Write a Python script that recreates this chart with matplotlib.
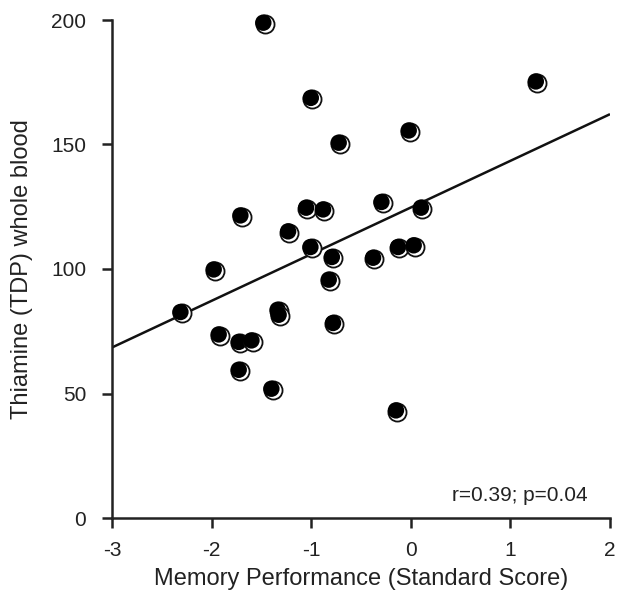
import matplotlib
matplotlib.use("Agg")
import matplotlib.pyplot as plt
import matplotlib.transforms as mtransforms
import numpy as np

plt.rcParams['font.family'] = ['Liberation Sans', 'DejaVu Sans']

memory_score = [-1.468, 1.268, -0.991, -0.711, -0.008, -1.698, -1.219, -1.038,
                -0.868, -0.282, 0.115, -0.995, -0.780, -0.811, -0.768, -0.366,
                -0.115, 0.042, -0.136, -1.966, -2.300, -1.916, -1.715, -1.587,
                -1.715, -1.387, -1.324, -1.314]
thiamine_tdp = [198.4, 174.8, 168.2, 150.2, 155.1, 121.0, 114.6, 124.1,
                123.4, 126.4, 124.1, 108.3, 104.3, 95.2, 77.8, 104.0,
                108.3, 109.0, 42.7, 99.3, 82.2, 73.2, 70.2, 70.8,
                59.0, 51.4, 83.1, 81.1]
fit_slope = 18.74
fit_intercept = 124.7
x_ticks = [-3, -2, -1, 0, 1, 2]
y_ticks = [0, 50, 100, 150, 200]
annotation = "r=0.39; p=0.04"

fig = plt.figure(figsize=(6.17, 5.98), dpi=100)
ax = fig.add_axes([112/617, (598-518)/598, (610-112)/617, (518-20)/598])

fx = np.array([-3, 2])
ax.plot(fx, fit_slope*fx + fit_intercept, color='#111111', lw=1.8, zorder=2,
        solid_capstyle='butt')

off = mtransforms.offset_copy(ax.transData, fig=fig, x=-1.3, y=1.3, units='dots')
z = 3
for xv, yv in zip(memory_score, thiamine_tdp):
    ax.scatter([xv], [yv], s=170, facecolor='white', edgecolor='#111111',
               linewidth=1.3, zorder=z, clip_on=False)
    ax.scatter([xv], [yv], s=140, facecolor='black', edgecolor='none',
               transform=off, zorder=z + 0.5, clip_on=False)
    z += 1

ax.set_xlim(-3, 2)
ax.set_ylim(0, 200)
ax.set_xticks(x_ticks)
ax.set_xticklabels([str(t) for t in x_ticks])
ax.set_yticks(y_ticks)
ax.set_yticklabels([str(t) for t in y_ticks])
for s in ['top', 'right']:
    ax.spines[s].set_visible(False)
for s in ['left', 'bottom']:
    ax.spines[s].set_linewidth(1.8)
    ax.spines[s].set_color('#222222')
ax.tick_params(axis='both', direction='out', length=7.5, width=1.8,
               labelsize=15, colors='#222222', labelcolor='#222222')
ax.tick_params(axis='x', pad=9)
ax.tick_params(axis='y', pad=11)
ax.set_xlabel("Memory Performance (Standard Score)", fontsize=17,
              labelpad=6, color='#222222')
ax.set_ylabel("Thiamine (TDP) whole blood", fontsize=17, labelpad=13,
              color='#222222')
ax.text(0.955, 0.045, annotation, transform=ax.transAxes, ha='right',
        va='center', fontsize=15, color='#222222')

fig.savefig("out.png", dpi=100)
